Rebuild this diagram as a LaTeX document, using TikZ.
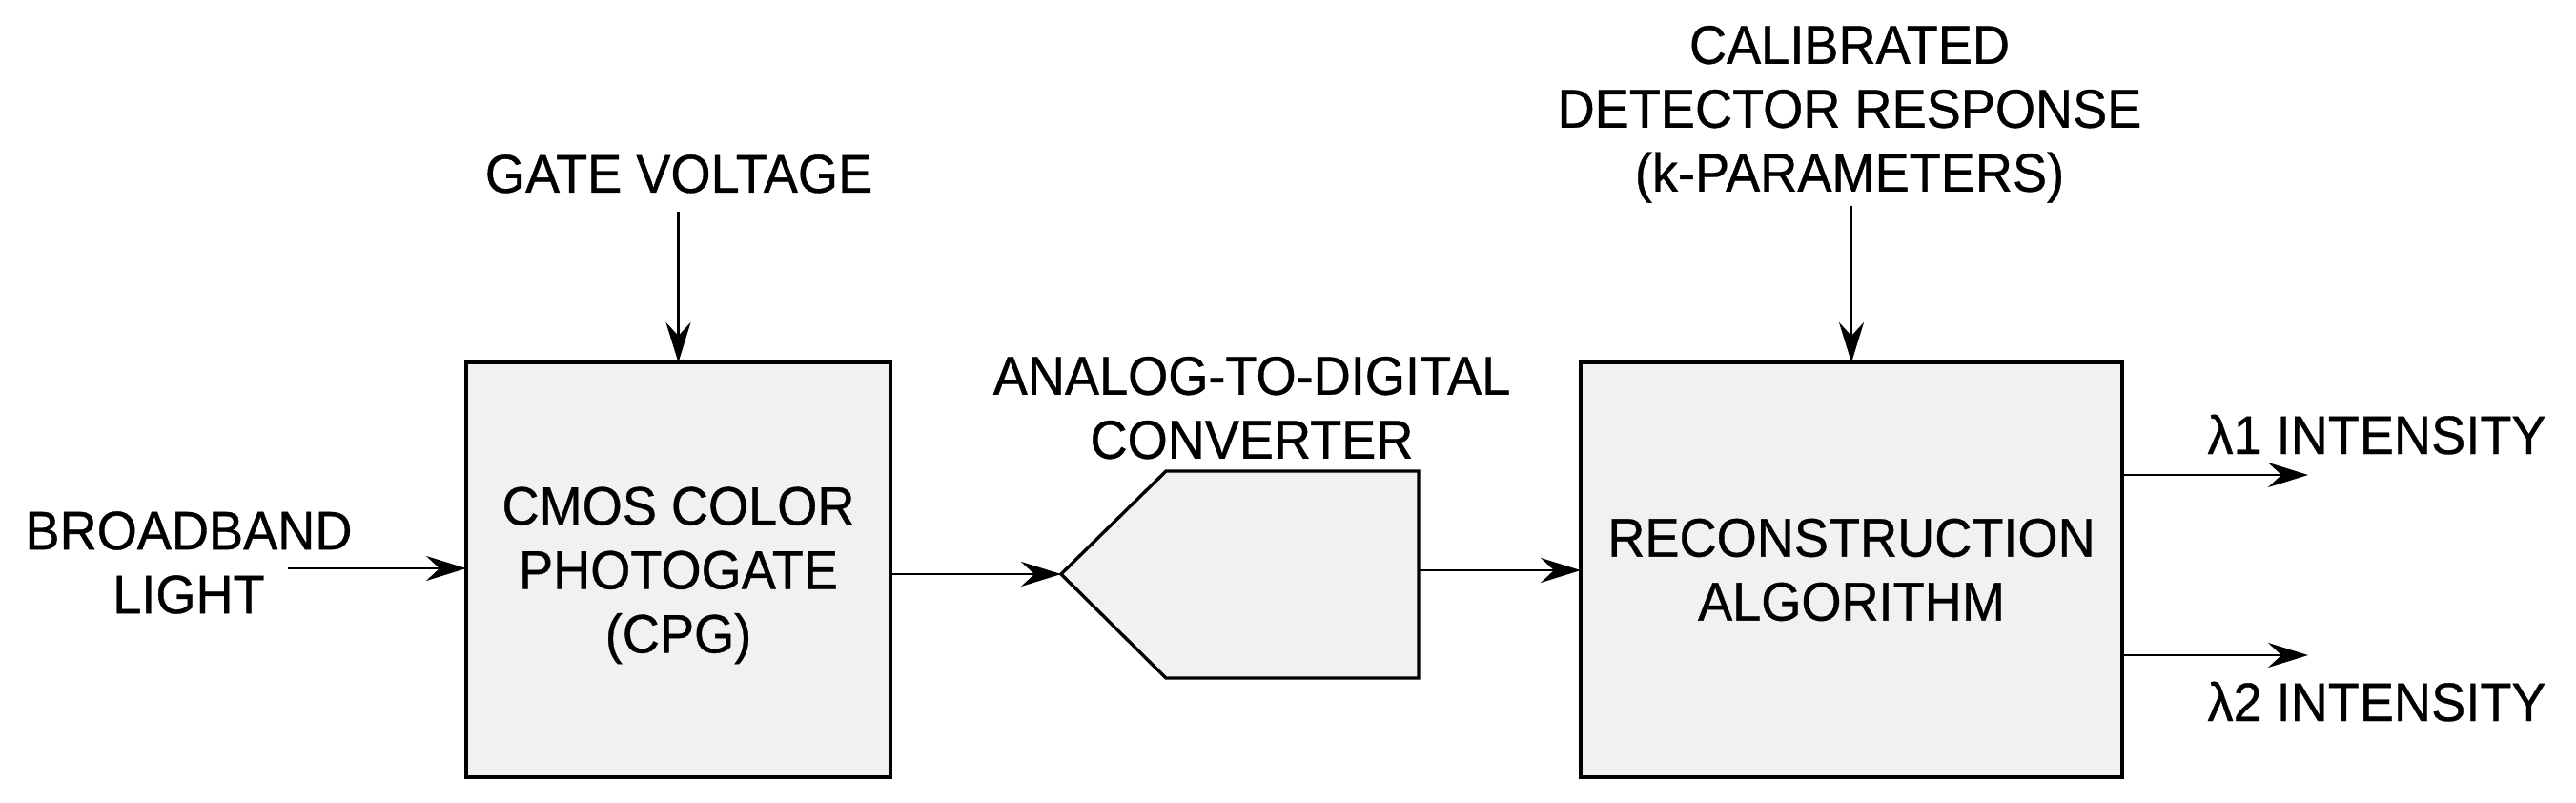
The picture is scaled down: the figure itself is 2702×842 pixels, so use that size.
\documentclass[tikz,border=0pt]{standalone}
\usepackage{fontspec}
\setmainfont{Liberation Sans}[FakeStretch=0.95,FakeBold=0.6]
\usetikzlibrary{arrows.meta}
\definecolor{boxfill}{RGB}{241,241,241}
\newcommand{\dfont}{\fontsize{57}{67}\selectfont}
\begin{document}
\begin{tikzpicture}[x=1pt,y=-1pt,
  every node/.style={inner sep=0pt, outer sep=0pt, font=\dfont, align=center},
  box/.style={draw, line width=3.4pt, fill=boxfill},
  shapeline/.style={draw, line width=3.4pt, fill=boxfill, line join=miter},
  conn/.style={line width=2.8pt, -{Stealth[length=42pt,width=26pt,inset=14pt]}}]
\useasboundingbox (0,0) rectangle (2702,842);

% blocks
\node[box, minimum width=445pt, minimum height=435pt] (cpg) at (711.5,597.5) {CMOS COLOR\\PHOTOGATE\\\smash{(CPG)}};
\node[box, minimum width=568pt, minimum height=435pt] (rec) at (1942,597.5) {RECONSTRUCTION\\ALGORITHM};

% ADC pentagon
\coordinate (adcin) at (1113,602);
\coordinate (adcout) at (1488,598);
\path[shapeline] (adcin) -- (1223,494) -- (1488,494) -- (1488,711) -- (1223,711) -- cycle;

% labels
\node[anchor=base] (gate) at (712,202) {GATE VOLTAGE};
\node (bb) at (198,590) {BROADBAND\\LIGHT};
\node[anchor=north] (adclab) at (1313,374) {ANALOG-TO-DIGITAL\\CONVERTER};
\node[anchor=north] (cal) at (1940,27) {CALIBRATED\\DETECTOR RESPONSE\\(k-PARAMETERS)};
\node[anchor=base] (l1) at (2493,476) {λ1 INTENSITY};
\node[anchor=base] (l2) at (2493,756) {λ2 INTENSITY};

% free ends
\coordinate (bbend) at (302,596);
\coordinate (l1end) at (2421,498);
\coordinate (l2end) at (2421,687);

% connectors
\draw[conn] (bbend) -- (cpg.west |- bbend);
\draw[conn] ([yshift=-19pt]gate.south -| cpg.north) -- (cpg.north);
\draw[conn] (cpg.east |- adcin) -- (adcin);
\draw[conn] (adcout) -- (rec.west |- adcout);
\draw[conn] ([yshift=-3pt]cal.south -| rec.north) -- (rec.north);
\draw[conn] (rec.east |- l1end) -- (l1end);
\draw[conn] (rec.east |- l2end) -- (l2end);
\end{tikzpicture}
\end{document}
